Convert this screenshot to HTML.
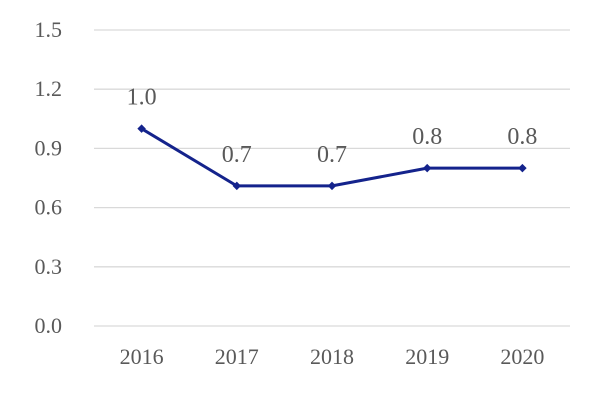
<!DOCTYPE html>
<html><head><meta charset="utf-8"><style>
html,body{margin:0;padding:0;background:#fff;}
svg text{font-family:"Liberation Serif",serif;fill:#595959;}
</style></head><body>
<svg id="chart" width="600" height="400">
<g id="grid"></g>
<g id="yt"></g>
<g id="xt"></g>
<g id="series"></g>
</svg>
<script>
const categories = ["2016","2017","2018","2019","2020"];
const values = [1.0, 0.71, 0.71, 0.8, 0.8];
const yTicks = [0, 0.3, 0.6, 0.9, 1.2, 1.5];
const yTickLabels = ["0.0","0.3","0.6","0.9","1.2","1.5"];

const NS="http://www.w3.org/2000/svg";
const x0=94, x1=570, yBase=326, yTop=30;
const yScale=v=>yBase-(v/1.5)*(yBase-yTop);
const xScale=i=>x0+(i+0.5)*(x1-x0)/categories.length;
function mk(tag,attrs,parent){const e=document.createElementNS(NS,tag);for(const k in attrs)e.setAttribute(k,attrs[k]);parent.appendChild(e);return e;}
const grid=document.getElementById('grid'), yt=document.getElementById('yt'), xt=document.getElementById('xt'), series=document.getElementById('series');
yTicks.forEach((t,i)=>{
  const l=mk('line',{x1:x0,x2:x1,y1:yScale(t),y2:yScale(t),stroke:'#d9d9d9','stroke-width':1.3},grid);
  
  
  const tx=mk('text',{x:62,y:yScale(t)+7,'text-anchor':'end','font-size':22},yt);
  tx.textContent=yTickLabels[i];
  
  
});
categories.forEach((c,i)=>{
  const tx=mk('text',{x:xScale(i),y:364,'text-anchor':'middle','font-size':22},xt);
  tx.textContent=c;
  
  
});
const pts=values.map((v,i)=>xScale(i)+','+yScale(v)).join(' ');
const pl=mk('polyline',{points:pts,fill:'none',stroke:'#14238c','stroke-width':3,'stroke-linejoin':'round'},series);


values.forEach((v,i)=>{
  const m=mk('rect',{x:xScale(i)-3,y:yScale(v)-3,width:6,height:6,fill:'#14238c',transform:`rotate(45 ${xScale(i)} ${yScale(v)})`},series);
  
  
  const lb=mk('text',{x:xScale(i),y:yScale(v)-24,'text-anchor':'middle','font-size':24},series);
  lb.textContent=v.toFixed(1);
  
  
});
</script>
</body></html>
